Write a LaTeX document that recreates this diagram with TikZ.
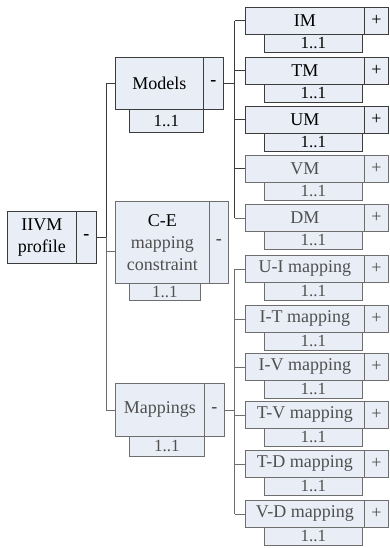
\documentclass[tikz,border=0pt]{standalone}
\usepackage{fontspec}
\setmainfont{Liberation Serif}
\newfontfamily\tnr{Liberation Serif}
\definecolor{boxfill}{RGB}{232,237,246}
\definecolor{darkline}{RGB}{60,60,60}
\definecolor{fadeline}{RGB}{110,110,110}
\definecolor{fadetext}{RGB}{80,80,80}
\begin{document}
\begin{tikzpicture}[x=1pt,y=-1pt,
  cell/.style={draw=darkline, fill=boxfill, line width=0.8pt, anchor=north west, inner sep=0pt,
     font=\tnr\fontsize{18}{22}\selectfont, align=center, text=black},
  faded/.style={draw=fadeline, text=fadetext},
  mult/.style={cell, font=\tnr\fontsize{17}{20}\selectfont},
  conn/.style={draw=darkline, line width=0.8pt},
  fconn/.style={draw=fadeline, line width=0.8pt}]
\useasboundingbox (0,0) rectangle (389,548);
\fill[white] (0,0) rectangle (389,548);

% root
\node[cell, minimum width=69, minimum height=52] (iivm) at (7,211) {IIVM\\profile};
\node[cell, minimum width=20, minimum height=52] (iivmS) at (76,211) {\textbf{-}};

% second level
\node[cell, minimum width=88, minimum height=52] (models) at (115,57) {Models};
\node[cell, minimum width=20, minimum height=52] (modelsS) at (203,57) {\textbf{-}};
\node[mult, minimum width=74, minimum height=23] (modelsM) at (129,109) {1..1};

\node[cell, faded, minimum width=94, minimum height=82] (ce) at (115,201) {\textcolor{black}{C-E}\\mapping\\constraint};
\node[cell, faded, minimum width=19, minimum height=82] (ceS) at (209,201) {\textbf{-}};
\node[mult, faded, minimum width=71, minimum height=17] (ceM) at (129,283) {1..1};

\node[cell, faded, minimum width=89, minimum height=53] (mappings) at (115,383) {Mappings};
\node[cell, faded, minimum width=20, minimum height=53] (mappingsS) at (204,383) {\textbf{-}};
\node[mult, faded, minimum width=75, minimum height=20] (mappingsM) at (129,436) {1..1};

% leaves
\foreach \n/\t/\y/\f in {im/IM/7/, tm/TM/57/, um/UM/106/, vm/VM/155/faded, dm/DM/204/faded,
    ui/U-I mapping/255/faded, it/I-T mapping/305/faded, iv/I-V mapping/353/faded,
    tv/T-V mapping/401/faded, td/T-D mapping/450/faded, vd/V-D mapping/500/faded}{
  \node[cell, \f, minimum width=119, minimum height=27] (\n) at (245,\y) {\t};
  \node[cell, \f, minimum width=24, minimum height=27] (\n S) at (364,\y) {+};
  \node[mult, \f, minimum width=98, minimum height=18] (\n M) at (264,\y+27) {1..1};
}

% connectors level 1
\coordinate (cein) at ([yshift=-9pt]ce.west);
\draw[conn] (models.west) -- ++(-9,0) coordinate (ta);
\draw[conn] (ta) -- (ta |- iivmS.east);
\draw[fconn] (ta |- iivmS.east) -- (ta |- mappings.west) -- (mappings.west);
\draw[conn] (iivmS.east) -- (ta |- iivmS.east);
\draw[fconn] (ta |- cein) -- (cein);

% models group
\draw[conn] (modelsS.east) -- ++(11,0) coordinate (tb);
\draw[conn] (tb |- im.west) -- (tb |- dm.west);
\foreach \n in {im,tm,um,vm}{ \draw[conn] (tb |- \n.west) -- (\n.west); }
\draw[fconn] (tb |- dm.west) -- (dm.west);

% mappings group
\draw[fconn] (mappingsS.east) -- ++(10,0) coordinate (tc);
\draw[fconn] (tc |- ui.west) -- (tc |- vd.west);
\foreach \n in {ui,it,iv,tv,td,vd}{ \draw[fconn] (tc |- \n.west) -- (\n.west); }
\end{tikzpicture}
\end{document}
